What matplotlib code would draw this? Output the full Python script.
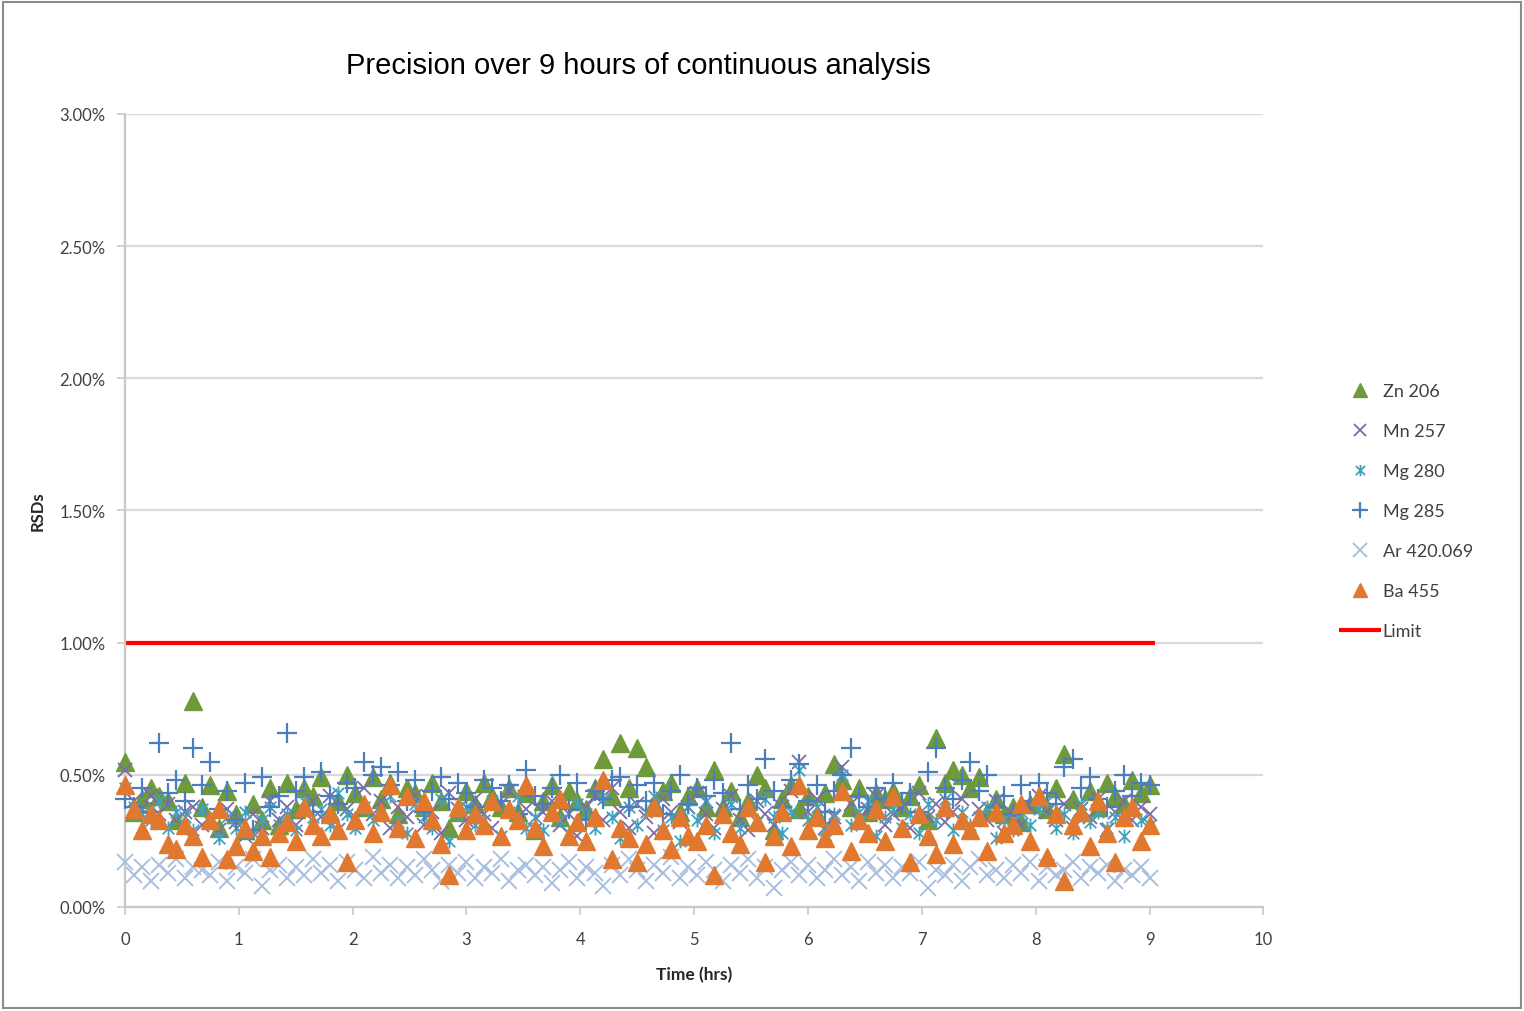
"""RSD precision of ICP lines over 9 hours of continuous analysis."""

import matplotlib

matplotlib.use("Agg")
import matplotlib.pyplot as plt
from matplotlib.path import Path
from matplotlib.patches import Rectangle
from matplotlib.ticker import FuncFormatter, MultipleLocator

# Sample times (hrs)
times = [
    0.000, 0.075, 0.150, 0.225, 0.300, 0.375, 0.450, 0.525, 0.600, 0.675,
    0.750, 0.825, 0.900, 0.975, 1.050, 1.125, 1.200, 1.275, 1.350, 1.425,
    1.500, 1.575, 1.650, 1.725, 1.800, 1.875, 1.950, 2.025, 2.100, 2.175,
    2.250, 2.325, 2.400, 2.475, 2.550, 2.625, 2.700, 2.775, 2.850, 2.925,
    3.000, 3.075, 3.150, 3.225, 3.300, 3.375, 3.450, 3.525, 3.600, 3.675,
    3.750, 3.825, 3.900, 3.975, 4.050, 4.125, 4.200, 4.275, 4.350, 4.425,
    4.500, 4.575, 4.650, 4.725, 4.800, 4.875, 4.950, 5.025, 5.100, 5.175,
    5.250, 5.325, 5.400, 5.475, 5.550, 5.625, 5.700, 5.775, 5.850, 5.925,
    6.000, 6.075, 6.150, 6.225, 6.300, 6.375, 6.450, 6.525, 6.600, 6.675,
    6.750, 6.825, 6.900, 6.975, 7.050, 7.125, 7.200, 7.275, 7.350, 7.425,
    7.500, 7.575, 7.650, 7.725, 7.800, 7.875, 7.950, 8.025, 8.100, 8.175,
    8.250, 8.325, 8.400, 8.475, 8.550, 8.625, 8.700, 8.775, 8.850, 8.925,
    9.000,
]

# RSD values (%) per emission line
zn206 = [
    0.55, 0.36, 0.41, 0.45, 0.42, 0.40, 0.33, 0.47, 0.78, 0.38,
    0.46, 0.30, 0.44, 0.35, 0.29, 0.39, 0.33, 0.45, 0.31, 0.47,
    0.37, 0.45, 0.42, 0.49, 0.36, 0.40, 0.50, 0.43, 0.38, 0.49,
    0.41, 0.47, 0.35, 0.45, 0.43, 0.38, 0.47, 0.40, 0.30, 0.36,
    0.44, 0.39, 0.47, 0.42, 0.38, 0.45, 0.36, 0.43, 0.29, 0.40,
    0.46, 0.34, 0.44, 0.40, 0.37, 0.45, 0.56, 0.42, 0.62, 0.45,
    0.60, 0.53, 0.39, 0.44, 0.47, 0.36, 0.42, 0.45, 0.38, 0.52,
    0.38, 0.44, 0.34, 0.40, 0.50, 0.45, 0.29, 0.41, 0.46, 0.37,
    0.42, 0.35, 0.43, 0.54, 0.48, 0.38, 0.45, 0.36, 0.43, 0.41,
    0.44, 0.38, 0.42, 0.46, 0.33, 0.64, 0.47, 0.52, 0.50, 0.45,
    0.49, 0.36, 0.41, 0.35, 0.38, 0.32, 0.39, 0.42, 0.37, 0.45,
    0.58, 0.41, 0.36, 0.44, 0.38, 0.47, 0.42, 0.39, 0.48, 0.43,
    0.46,
]
mn257 = [
    0.52, 0.40, 0.37, 0.42, 0.35, 0.39, 0.33, 0.36, 0.38, 0.31,
    0.34, 0.29, 0.37, 0.32, 0.27, 0.35, 0.30, 0.40, 0.33, 0.38,
    0.31, 0.36, 0.40, 0.34, 0.42, 0.29, 0.37, 0.33, 0.45, 0.35,
    0.40, 0.30, 0.38, 0.34, 0.42, 0.31, 0.36, 0.28, 0.43, 0.37,
    0.33, 0.41, 0.35, 0.30, 0.39, 0.44, 0.32, 0.37, 0.29, 0.36,
    0.40, 0.31, 0.35, 0.27, 0.38, 0.42, 0.33, 0.45, 0.36, 0.30,
    0.39, 0.34, 0.28, 0.41, 0.36, 0.32, 0.38, 0.43, 0.35, 0.30,
    0.37, 0.42, 0.33, 0.29, 0.40, 0.35, 0.31, 0.38, 0.44, 0.55,
    0.36, 0.41, 0.30, 0.34, 0.53, 0.39, 0.33, 0.37, 0.42, 0.31,
    0.35, 0.38, 0.30, 0.43, 0.34, 0.39, 0.32, 0.36, 0.41, 0.29,
    0.37, 0.33, 0.40, 0.28, 0.35, 0.31, 0.38, 0.42, 0.36, 0.33,
    0.39, 0.30, 0.37, 0.34, 0.41, 0.29, 0.36, 0.40, 0.33, 0.38,
    0.35,
]
mg280 = [
    0.45, 0.38, 0.35, 0.33, 0.40, 0.30, 0.36, 0.34, 0.29, 0.37,
    0.32, 0.26, 0.34, 0.30, 0.36, 0.28, 0.33, 0.38, 0.31, 0.35,
    0.29, 0.40, 0.34, 0.37, 0.31, 0.43, 0.35, 0.30, 0.38, 0.33,
    0.36, 0.42, 0.32, 0.28, 0.39, 0.34, 0.30, 0.41, 0.25, 0.35,
    0.38, 0.31, 0.33, 0.40, 0.27, 0.36, 0.42, 0.30, 0.34, 0.29,
    0.37, 0.33, 0.28, 0.39, 0.35, 0.30, 0.41, 0.34, 0.26, 0.38,
    0.31, 0.36, 0.42, 0.29, 0.34, 0.25, 0.38, 0.33, 0.40, 0.28,
    0.35, 0.39, 0.30, 0.37, 0.32, 0.41, 0.34, 0.28, 0.36, 0.52,
    0.33, 0.38, 0.29, 0.35, 0.50, 0.31, 0.36, 0.40, 0.27, 0.34,
    0.37, 0.30, 0.35, 0.28, 0.39, 0.33, 0.41, 0.29, 0.36, 0.31,
    0.34, 0.38, 0.26, 0.33, 0.29, 0.36, 0.31, 0.37, 0.40, 0.30,
    0.35, 0.28, 0.39, 0.32, 0.36, 0.30, 0.34, 0.27, 0.37, 0.33,
    0.31,
]
mg285 = [
    0.41, 0.38, 0.45, 0.36, 0.62, 0.43, 0.48, 0.40, 0.60, 0.46,
    0.55, 0.37, 0.44, 0.33, 0.47, 0.29, 0.49, 0.38, 0.42, 0.66,
    0.44, 0.49, 0.36, 0.51, 0.42, 0.39, 0.47, 0.45, 0.55, 0.50,
    0.53, 0.46, 0.51, 0.40, 0.48, 0.36, 0.44, 0.49, 0.41, 0.47,
    0.43, 0.38, 0.48, 0.45, 0.40, 0.46, 0.35, 0.52, 0.42, 0.39,
    0.45, 0.50, 0.37, 0.47, 0.33, 0.44, 0.41, 0.48, 0.49, 0.38,
    0.46, 0.40, 0.47, 0.35, 0.44, 0.50, 0.39, 0.45, 0.42, 0.48,
    0.43, 0.62, 0.37, 0.46, 0.41, 0.56, 0.44, 0.38, 0.48, 0.54,
    0.40, 0.46, 0.36, 0.44, 0.50, 0.60, 0.42, 0.38, 0.45, 0.41,
    0.47, 0.39, 0.43, 0.36, 0.51, 0.60, 0.45, 0.41, 0.48, 0.55,
    0.44, 0.50, 0.38, 0.42, 0.35, 0.46, 0.40, 0.47, 0.43, 0.39,
    0.53, 0.56, 0.45, 0.49, 0.41, 0.38, 0.44, 0.50, 0.42, 0.47,
    0.46,
]
ar420 = [
    0.17, 0.12, 0.15, 0.10, 0.16, 0.13, 0.18, 0.11, 0.15, 0.14,
    0.12, 0.17, 0.10, 0.15, 0.13, 0.18, 0.08, 0.14, 0.16, 0.11,
    0.15, 0.12, 0.18, 0.13, 0.16, 0.10, 0.17, 0.14, 0.11, 0.19,
    0.13, 0.16, 0.11, 0.15, 0.12, 0.18, 0.14, 0.10, 0.16, 0.13,
    0.17, 0.11, 0.15, 0.13, 0.18, 0.10, 0.14, 0.16, 0.12, 0.15,
    0.09, 0.14, 0.17, 0.11, 0.15, 0.13, 0.08, 0.16, 0.12, 0.18,
    0.14, 0.10, 0.16, 0.13, 0.19, 0.11, 0.15, 0.12, 0.17, 0.14,
    0.10, 0.16, 0.13, 0.18, 0.11, 0.15, 0.07, 0.14, 0.17, 0.12,
    0.16, 0.11, 0.14, 0.18, 0.12, 0.15, 0.10, 0.17, 0.13, 0.16,
    0.11, 0.15, 0.13, 0.17, 0.07, 0.14, 0.12, 0.16, 0.10, 0.15,
    0.18, 0.12, 0.14, 0.11, 0.16, 0.13, 0.17, 0.10, 0.15, 0.12,
    0.14, 0.17, 0.11, 0.15, 0.13, 0.16, 0.10, 0.14, 0.12, 0.15,
    0.11,
]
ba455 = [
    0.46, 0.37, 0.29, 0.35, 0.33, 0.24, 0.22, 0.31, 0.27, 0.19,
    0.33, 0.37, 0.18, 0.23, 0.30, 0.21, 0.27, 0.19, 0.28, 0.32,
    0.25, 0.38, 0.31, 0.27, 0.35, 0.29, 0.17, 0.33, 0.39, 0.28,
    0.36, 0.46, 0.30, 0.42, 0.26, 0.40, 0.33, 0.24, 0.12, 0.38,
    0.29, 0.35, 0.31, 0.40, 0.27, 0.37, 0.33, 0.46, 0.30, 0.23,
    0.36, 0.41, 0.27, 0.32, 0.25, 0.34, 0.48, 0.18, 0.30, 0.26,
    0.17, 0.24, 0.38, 0.29, 0.22, 0.34, 0.27, 0.25, 0.31, 0.12,
    0.35, 0.28, 0.24, 0.38, 0.32, 0.17, 0.27, 0.36, 0.23, 0.46,
    0.29, 0.34, 0.26, 0.31, 0.44, 0.21, 0.33, 0.28, 0.37, 0.25,
    0.42, 0.30, 0.17, 0.35, 0.27, 0.20, 0.38, 0.24, 0.33, 0.29,
    0.34, 0.21, 0.36, 0.28, 0.31, 0.39, 0.25, 0.42, 0.19, 0.35,
    0.10, 0.31, 0.36, 0.23, 0.40, 0.28, 0.17, 0.34, 0.38, 0.25,
    0.31,
]

limit_times = [0.0, 9.05]
limit_rsd = [1.0, 1.0]

# Excel-style "star" marker: an x with a vertical bar through it
star_marker = Path(
    [(-1, -1), (1, 1), (-1, 1), (1, -1), (0, -1.2), (0, 1.2)],
    [Path.MOVETO, Path.LINETO, Path.MOVETO, Path.LINETO, Path.MOVETO, Path.LINETO],
)

TICK_FONT = "Lato"
GREY_TXT = "#404040"

fig = plt.figure(figsize=(15.24, 10.12), dpi=100)
ax = fig.add_axes([0.082, 0.1028, 0.747, 0.7836])

series = [
    (zn206, "Zn 206", dict(marker="^", color="#6f9a3b", markersize=13)),
    (mn257, "Mn 257", dict(marker="x", color="#7d6aa8", markersize=10, markeredgewidth=1.3)),
    (mg280, "Mg 280", dict(marker=star_marker, color="#3fa3bf", markersize=10,
                           markeredgewidth=1.3, fillstyle="none")),
    (mg285, "Mg 285", dict(marker="+", color="#4a7ebf", markersize=14, markeredgewidth=1.6)),
    (ar420, "Ar 420.069", dict(marker="x", color="#a9bfe0", markersize=12, markeredgewidth=1.4)),
    (ba455, "Ba 455", dict(marker="^", color="#e0782f", markersize=13)),
]

for vals, name, style in series:
    ax.plot(times, vals, linestyle="none", label=name, clip_on=False, zorder=3,
            markeredgecolor=style["color"], **style)

ax.plot(limit_times, limit_rsd, color="#ff0000", linewidth=3, label="Limit", zorder=2,
        solid_capstyle="butt")

ax.set_xlim(0, 10)
ax.set_ylim(0, 3.0)
ax.xaxis.set_major_locator(MultipleLocator(1))
ax.yaxis.set_major_locator(MultipleLocator(0.5))
ax.yaxis.set_major_formatter(FuncFormatter(lambda v, _: f"{v:.2f}%"))

ax.grid(axis="y", color="#d9d9d9", linewidth=1.6, zorder=0)
ax.set_axisbelow(True)
for side in ("top", "right"):
    ax.spines[side].set_visible(False)
for side in ("left", "bottom"):
    ax.spines[side].set_color("#c8c8c8")
    ax.spines[side].set_linewidth(1.6)

ax.tick_params(axis="both", direction="out", length=6, width=1.2, color="#c8c8c8",
               labelcolor=GREY_TXT, labelsize=12)
ax.tick_params(axis="y", pad=8)
ax.tick_params(axis="x", pad=11)
for lbl in ax.get_xticklabels() + ax.get_yticklabels():
    lbl.set_fontfamily(TICK_FONT)

ax.set_xlabel("Time (hrs)", fontsize=12.5, fontweight="bold", fontfamily=TICK_FONT,
              color="#262626", labelpad=14)
ax.set_ylabel("RSDs", fontsize=12, fontweight="bold", fontfamily=TICK_FONT,
              color="#262626", labelpad=10)

fig.text(0.419, 0.935, "Precision over 9 hours of continuous analysis",
         fontsize=21, fontfamily="Liberation Sans", color="black",
         ha="center", va="center")

leg = fig.legend(loc="center left", bbox_to_anchor=(0.874, 0.494), frameon=False,
                 prop={"family": TICK_FONT, "size": 13}, labelspacing=1.33,
                 handlelength=2.3, handletextpad=0.1, borderaxespad=0,
                 markerscale=0.8)
for txt in leg.get_texts():
    txt.set_color(GREY_TXT)

# thin grey frame around the whole chart area
fig.patches.append(Rectangle((0.002, 0.003), 0.996, 0.994, transform=fig.transFigure,
                             fill=False, edgecolor="#8c8c8c", linewidth=1.5))

fig.savefig("out.png", dpi=100)
